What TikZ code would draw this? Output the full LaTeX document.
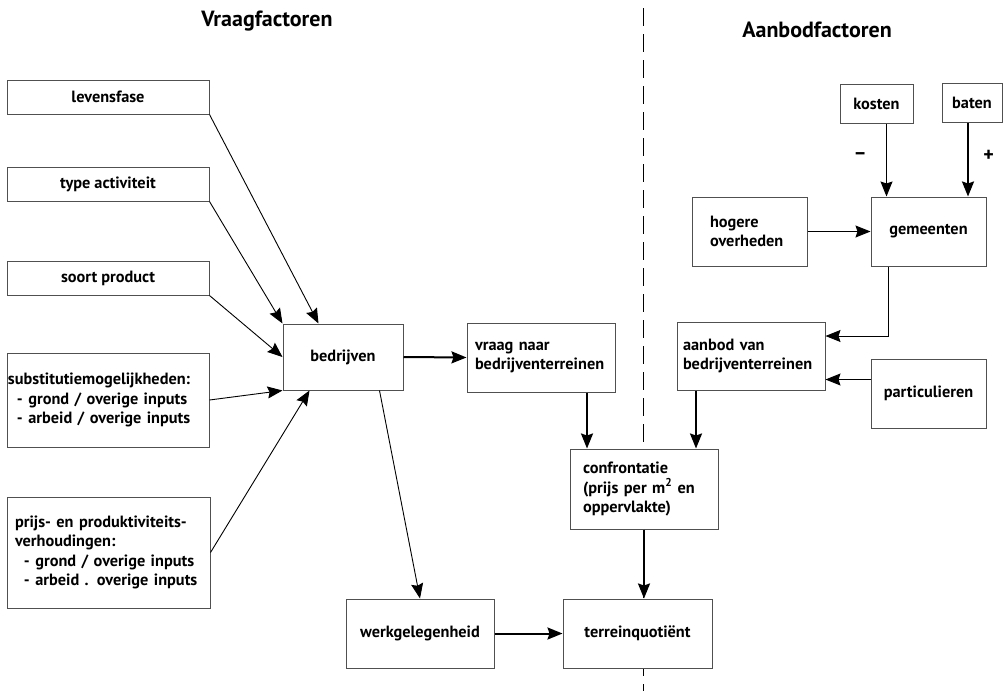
\documentclass[tikz,border=0pt]{standalone}
\usepackage{fontspec}
\setmainfont{PT Sans}
\usetikzlibrary{arrows.meta,positioning,calc}
\definecolor{boxgray}{HTML}{505050}

\begin{document}
\begin{tikzpicture}[x=1pt,y=-1pt,
    box/.style={draw=boxgray,line width=1pt,fill=white,inner sep=0pt,
      font=\bfseries\fontsize{16.3}{19.5}\selectfont},
    titel/.style={font=\bfseries\fontsize{22}{26}\selectfont},
    teken/.style={font=\bfseries\fontsize{20}{20}\selectfont},
    arr/.style={-{Stealth[length=15pt,width=12pt,inset=2pt]},line width=0.9pt},
    thickarr/.style={arr,line width=2pt}]
  \useasboundingbox (0,0) rectangle (1004,691);
  \draw[dash pattern=on 18pt off 8pt,line width=0.8pt] (643,8) -- (643,691);

  \node[titel] (vraagtitel) at (267,21) {Vraagfactoren};
  \node[titel] (aanbodtitel) at (817,30) {Aanbodfactoren};

  \node[box,minimum width=202,minimum height=34] (levensfase) at (108,97) {levensfase};
  \node[box,minimum width=202,minimum height=34] (type) at (108,184) {type activiteit};
  \node[box,minimum width=202,minimum height=34] (soort) at (108,278) {soort product};
  \node[box,minimum height=94,inner xsep=1,text width=200,align=left] (subst) at (108,400)
    {substitutiemogelijkheden:\\\hspace*{9pt}- grond / overige inputs\\\hspace*{9pt}- arbeid / overige inputs};
  \node[box,minimum height=111,inner xsep=8,text width=187,align=left] (prijs) at (108.5,552.5)
    {prijs- en produktiviteits-\\verhoudingen:\\\hspace*{9pt}- grond / overige inputs\\\hspace*{9pt}- arbeid . overige inputs};

  \node[box,minimum width=120,minimum height=66] (bedrijven) at (343,357) {bedrijven};
  \node[box,minimum height=69,inner xsep=8,text width=132,align=left] (vraag) at (541,357.5)
    {vraag naar\\bedrijventerreinen};
  \node[box,minimum height=80,inner xsep=13,text width=122,align=left] (confr) at (644,489)
    {confrontatie\\(prijs per m\textsuperscript{2} en\\oppervlakte)};
  \node[box,minimum width=148,minimum height=69] (werk) at (420,633.5) {werkgelegenheid};
  \node[box,minimum width=149,minimum height=69] (terrein) at (637.5,633.5) {terreinquotiënt};

  \node[box,minimum height=68,inner xsep=6,text width=136,align=left] (aanbod) at (751,356)
    {aanbod van\\bedrijventerreinen};
  \node[box,minimum width=115,minimum height=69] (partic) at (928.5,393.5) {particulieren};
  \node[box,minimum height=69,inner xsep=18,text width=79,align=left] (hogere) at (749.5,231.5)
    {hogere\\overheden};
  \node[box,minimum width=115,minimum height=69] (gemeenten) at (928.5,231.5) {gemeenten};
  \node[box,minimum width=73,minimum height=39] (kosten) at (876.5,103.5) {kosten};
  \node[box,minimum width=60,minimum height=39] (baten) at (972,103) {baten};

  \draw[arr] (levensfase.south east) -- ([xshift=36]bedrijven.north west);
  \draw[arr] (type.south east) -- (bedrijven.north west);
  \draw[arr] (soort.south east) -- (bedrijven.west);
  \draw[arr] (subst.east) -- (bedrijven.south west);
  \draw[arr] (prijs.east) -- ([xshift=27]bedrijven.south west);
  \draw[thickarr] (bedrijven.east) -- (vraag.west);
  \draw[arr] ([xshift=-24]bedrijven.south east) -- (werk.north);
  \draw[thickarr] ([xshift=46]vraag.south) -- ([xshift=46]vraag.south |- confr.north);
  \draw[thickarr] ([xshift=-55]aanbod.south) -- ([xshift=-55]aanbod.south |- confr.north);
  \draw[thickarr] (confr.south) -- (confr.south |- terrein.north);
  \draw[thickarr] (werk.east) -- (terrein.west);
  \draw[arr] ([xshift=-40]gemeenten.south) |- ([yshift=20]aanbod.east);
  \draw[arr] ([yshift=14]partic.west) -- ([yshift=14]partic.west -| aanbod.east);
  \draw[arr] (hogere.east) -- (gemeenten.west);
  \draw[arr] ([xshift=10]kosten.south) -- ([xshift=10]kosten.south |- gemeenten.north)
    node[teken,pos=0.45,left=16pt] {--};
  \draw[thickarr] ([xshift=-4]baten.south) -- ([xshift=-4]baten.south |- gemeenten.north)
    node[teken,pos=0.45,right=11pt] {+};
\end{tikzpicture}
\end{document}
